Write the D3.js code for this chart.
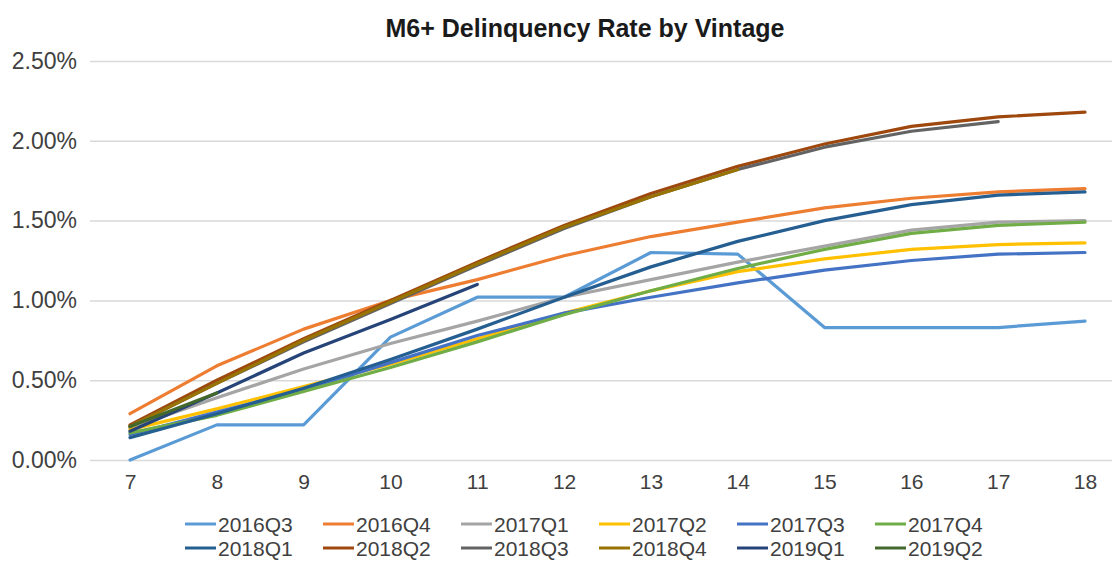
<!DOCTYPE html>
<html>
<head>
<meta charset="utf-8">
<script src="https://cdn.jsdelivr.net/npm/d3@7"></script>
<style>
  body { margin: 0; background: #fff; }
  svg { display: block; font-family: "Liberation Sans", Arial, sans-serif; }
</style>
</head>
<body>
<div id="chart"></div>
<script>
// months on book
const months = [7, 8, 9, 10, 11, 12, 13, 14, 15, 16, 17, 18];

const vintages = ["2016Q3", "2016Q4", "2017Q1", "2017Q2", "2017Q3", "2017Q4",
                  "2018Q1", "2018Q2", "2018Q3", "2018Q4", "2019Q1", "2019Q2"];

const colors = ["#5B9BD5", "#ED7D31", "#A5A5A5", "#FFC000", "#4472C4", "#70AD47",
                "#255E91", "#9E480E", "#636363", "#997300", "#264478", "#43682B"];

// rates in %, null = not yet observed
const v2016Q3 = [0.00, 0.22, 0.22, 0.77, 1.02, 1.02, 1.30, 1.29, 0.83, 0.83, 0.83, 0.87];
const v2016Q4 = [0.29, 0.59, 0.82, 1.00, 1.13, 1.28, 1.40, 1.49, 1.58, 1.64, 1.68, 1.70];
const v2017Q1 = [0.20, 0.39, 0.57, 0.73, 0.87, 1.02, 1.13, 1.24, 1.34, 1.44, 1.49, 1.50];
const v2017Q2 = [0.19, 0.32, 0.46, 0.60, 0.76, 0.92, 1.06, 1.18, 1.26, 1.32, 1.35, 1.36];
const v2017Q3 = [0.16, 0.30, 0.44, 0.61, 0.78, 0.92, 1.02, 1.11, 1.19, 1.25, 1.29, 1.30];
const v2017Q4 = [0.17, 0.28, 0.43, 0.58, 0.74, 0.91, 1.06, 1.20, 1.32, 1.42, 1.47, 1.49];
const v2018Q1 = [0.14, 0.29, 0.45, 0.63, 0.82, 1.02, 1.21, 1.37, 1.50, 1.60, 1.66, 1.68];
const v2018Q2 = [0.22, 0.50, 0.76, 1.00, 1.24, 1.47, 1.67, 1.84, 1.98, 2.09, 2.15, 2.18];
const v2018Q3 = [0.21, 0.48, 0.74, 0.98, 1.22, 1.45, 1.65, 1.82, 1.96, 2.06, 2.12, null];
const v2018Q4 = [0.21, 0.48, 0.75, 0.99, 1.23, 1.46, 1.65, 1.82, null, null, null, null];
const v2019Q1 = [0.18, 0.42, 0.67, 0.88, 1.10, null, null, null, null, null, null, null];
const v2019Q2 = [0.21, 0.42, null, null, null, null, null, null, null, null, null, null];

const seriesValues = [v2016Q3, v2016Q4, v2017Q1, v2017Q2, v2017Q3, v2017Q4,
                      v2018Q1, v2018Q2, v2018Q3, v2018Q4, v2019Q1, v2019Q2];

const yTicks = [0, 0.005, 0.01, 0.015, 0.02, 0.025];

const width = 1112, height = 561;
const plot = { left: 90, right: 1112, top: 61, bottom: 460 };

const svg = d3.select("#chart").append("svg")
    .attr("width", width)
    .attr("height", height);

const x = d3.scalePoint().domain(months).range([130, 1085]);
const y = d3.scaleLinear().domain([0, 0.025]).range([plot.bottom, plot.top]);

// title
svg.append("text")
    .attr("x", 585)
    .attr("y", 37)
    .attr("text-anchor", "middle")
    .style("font-size", "25px")
    .style("font-weight", "bold")
    .style("fill", "#1a1a1a")
    .text("M6+ Delinquency Rate by Vintage");

// y axis + gridlines
const yAxis = svg.append("g")
    .attr("class", "y axis")
    .attr("transform", `translate(${plot.left},0)`)
    .call(d3.axisLeft(y)
        .tickValues(yTicks)
        .tickFormat(d3.format(".2%"))
        .tickSizeInner(-(plot.right - plot.left))
        .tickSizeOuter(0)
        .tickPadding(13));

yAxis.select(".domain").remove();
yAxis.selectAll("line")
    .style("stroke", "#d9d9d9")
    .style("stroke-width", 1.5);
yAxis.selectAll("text")
    .style("font-size", "23px")
    .style("fill", "#404040");

// x axis
const xAxis = svg.append("g")
    .attr("class", "x axis")
    .attr("transform", `translate(0,${plot.bottom})`)
    .call(d3.axisBottom(x).tickSize(0).tickPadding(14));

xAxis.select(".domain").remove();
xAxis.selectAll("text")
    .style("font-size", "21px")
    .style("fill", "#404040");

// lines
const data = vintages.map((name, i) => ({
    name: name,
    color: colors[i],
    values: months.map((m, j) => ({ m: m, v: seriesValues[i][j] }))
}));

const line = d3.line()
    .defined(d => d.v !== null)
    .x(d => x(d.m))
    .y(d => y(d.v / 100));

svg.append("g").selectAll("path.series")
    .data(data)
    .enter().append("path")
        .attr("class", "series")
        .attr("d", d => line(d.values))
        .style("fill", "none")
        .style("stroke", d => d.color)
        .style("stroke-width", 3.2)
        .style("stroke-linejoin", "round")
        .style("stroke-linecap", "round");

// legend, 6 per row
const legend = svg.append("g").selectAll("g.legend")
    .data(data)
    .enter().append("g")
        .attr("class", "legend")
        .attr("transform", (d, i) => `translate(${185 + (i % 6) * 138},${524 + Math.floor(i / 6) * 24})`);

legend.append("line")
    .attr("x1", 0)
    .attr("x2", 31)
    .style("stroke", d => d.color)
    .style("stroke-width", 3);

legend.append("text")
    .attr("x", 33)
    .attr("dy", "0.36em")
    .style("font-size", "21px")
    .style("fill", "#404040")
    .text(d => d.name);
</script>
</body>
</html>
